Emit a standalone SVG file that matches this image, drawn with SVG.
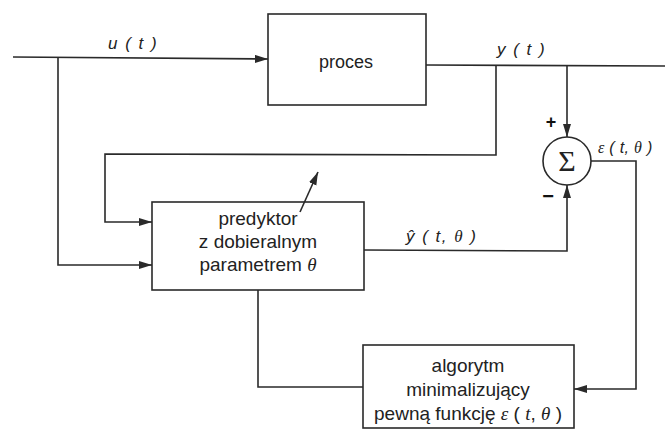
<svg xmlns="http://www.w3.org/2000/svg" width="665" height="431" viewBox="0 0 665 431">
<style>
.box{fill:#fff;stroke:#2a2a2a;stroke-width:1.6}
.ln{fill:none;stroke:#2a2a2a;stroke-width:1.6}
.t{font-family:"Liberation Sans",Arial,sans-serif;font-size:19px;fill:#222;text-anchor:middle}
.lb{font-family:"Liberation Sans",Arial,sans-serif;font-size:17px;font-style:italic;fill:#222;letter-spacing:1.5px}
.m{font-family:"Liberation Serif","Times New Roman",serif;font-style:italic}
.sg{font-family:"Liberation Sans",Arial,sans-serif;font-weight:bold;fill:#111;text-anchor:middle}
</style>
<defs>
<marker id="ar" markerUnits="userSpaceOnUse" markerWidth="14" markerHeight="10" refX="13" refY="4" orient="auto">
<path d="M0,0 L13,4 L0,8 z" fill="#2a2a2a"/>
</marker>
</defs>
<g id="proces">
<rect class="box" x="268" y="14" width="158" height="91"/>
<text class="t" x="346" y="68" style="font-size:18px">proces</text>
</g>
<g id="sum">
<circle class="box" cx="567" cy="161" r="24"/>
<text class="t" x="567" y="171" style="font-family:'Liberation Serif',serif;font-size:30px">Σ</text>
</g>
<g id="predyktor">
<rect class="box" x="152" y="202" width="212" height="88"/>
<text class="t" x="258" y="225">predyktor</text>
<text class="t" x="258" y="248">z dobieralnym</text>
<text class="t" x="258" y="271">parametrem <tspan class="m">θ</tspan></text>
</g>
<g id="algorytm">
<rect class="box" x="363" y="345" width="211" height="83"/>
<text class="t" x="468" y="372">algorytm</text>
<text class="t" x="468" y="396">minimalizujący</text>
<text class="t" x="468" y="420">pewną funkcję <tspan class="m">ε</tspan> ( <tspan class="m">t</tspan>, <tspan class="m">θ</tspan> )</text>
</g>
<g id="connectors">
<path class="ln" d="M13,57 L268,59" marker-end="url(#ar)"/>
<path class="ln" d="M58,58 L58,265 L152,265" marker-end="url(#ar)"/>
<path class="ln" d="M426,65 L665,66"/>
<path class="ln" d="M496,65 L496,155 L105,154 L105,222 L152,222" marker-end="url(#ar)"/>
<path class="ln" d="M567,65 L567,137" marker-end="url(#ar)"/>
<path class="ln" d="M364,250 L567,251 L567,185" marker-end="url(#ar)"/>
<path class="ln" d="M591,161 L636,161 L636,389 L574,389" marker-end="url(#ar)"/>
<path class="ln" d="M363,387 L258,387 L258,290"/>
<path class="ln" d="M300,212 L318,172" marker-end="url(#ar)"/>
</g>
<g id="labels">
<text class="lb" x="108" y="49">u ( t )</text>
<text class="lb" x="497" y="55">y ( t )</text>
<text class="lb" x="406" y="242">ŷ ( t, <tspan class="m">θ</tspan> )</text>
<text class="lb" x="598" y="153" style="letter-spacing:0.3px;font-size:16px"><tspan class="m">ε</tspan> ( t, <tspan class="m">θ</tspan> )</text>
<text class="sg" x="551" y="128" style="font-size:18px">+</text>
<text class="sg" x="548" y="203" style="font-size:20px">−</text>
</g>
</svg>
